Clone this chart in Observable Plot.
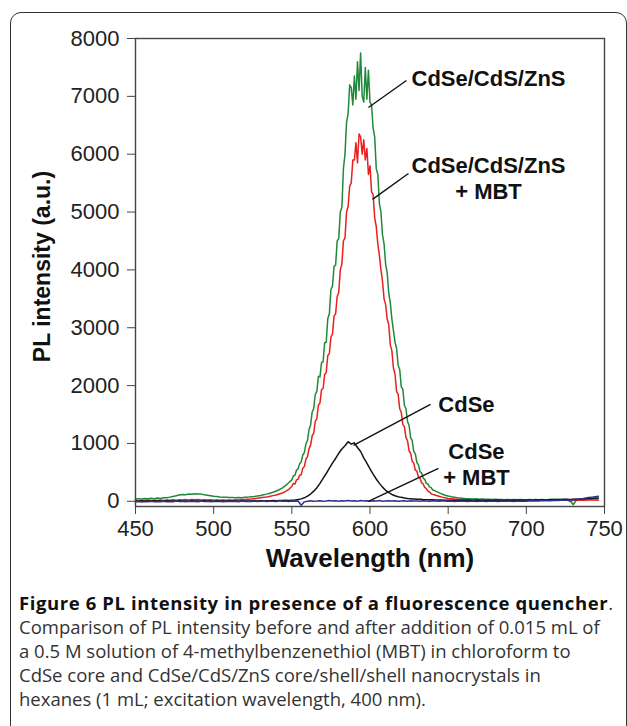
<!DOCTYPE html>
<html><head><meta charset="utf-8">
<script src="https://cdn.jsdelivr.net/npm/d3@7"></script>
<script src="https://cdn.jsdelivr.net/npm/@observablehq/plot@0.6"></script>
<style>
html,body{margin:0;padding:0;background:#fff;width:627px;height:726px;overflow:hidden;}
#box{position:absolute;left:10px;top:12px;width:617px;height:740px;border:1.5px solid #333;border-radius:11px;box-sizing:border-box;}
#chart{position:absolute;left:0;top:0;}
#caption{position:absolute;left:19px;top:591px;width:608px;font-family:"Open Sans",sans-serif;font-size:18.5px;line-height:24px;color:#333;white-space:nowrap;}
#caption b{font-weight:700;color:#111;letter-spacing:0.6px;}
</style></head>
<body>
<div id="box"></div>
<div id="chart"></div>
<div id="caption"><b>Figure 6 PL intensity in presence of a fluorescence quencher</b>.<br>Comparison of PL intensity before and after addition of 0.015 mL of<br>a 0.5 M solution of 4-methylbenzenethiol (MBT) in chloroform to<br>CdSe core and CdSe/CdS/ZnS core/shell/shell nanocrystals in<br>hexanes (1 mL; excitation wavelength, 400 nm).</div>
<script>
// ---- axes ----
const xTicks = [450, 500, 550, 600, 650, 700, 750];
const yTicks = [0, 1000, 2000, 3000, 4000, 5000, 6000, 7000, 8000];

// ---- wavelength sampling (nm) ----
const fineGrid = [...d3.range(450, 550, 2), ...d3.range(550, 641, 1), ...d3.range(642, 747, 2)];
const coarseGrid = d3.range(450, 747, 2);

// ---- CdSe/CdS/ZnS (green) ----
const greenLow = [40,46,38,50,44,52,46,55,50,60,
 62,72,84,96,110,118,112,126,120,132,
 126,124,112,104,96,88,82,76,72,70,
 66,64,62,66,62,68,72,78,84,92,
 100,112,124,140,156,178,200,232,270,320];
const greenPeak = [370,440,450,540,560,650,680,800,840,990,
 1050,1240,1320,1540,1610,1850,1900,2160,2150,2400,
 2410,2740,2750,3160,3240,3660,3720,4060,4080,4500,
 4540,5000,5080,5750,6000,6550,6700,7200,7150,6850,
 7350,6950,7600,7100,7750,7000,6900,7500,6950,7450,
 6900,6850,6450,6300,5750,5650,5150,5000,4600,4450,
 4100,3950,3600,3430,3150,2950,2750,2650,2350,2280,
 1980,1940,1660,1600,1380,1310,1100,1050,860,820,
 670,630,510,490,400,380,310,300,250,240,
 200];
const greenHigh = [175,150,125,105,90,78,70,60,55,50,
 46,44,40,42,36,38,34,36,30,34,
 30,32,28,32,28,30,26,30,28,26,
 30,26,30,28,32,28,30,34,30,34,
 32,36,30,10,-60,20,36,40,38,44,
 40,48,46];

// ---- CdSe/CdS/ZnS + MBT (red) ----
const redLow = [18,10,20,14,22,12,20,16,24,14,
 22,18,26,20,28,22,30,24,32,26,
 30,24,28,22,26,20,24,18,22,20,
 24,20,26,24,30,30,36,40,46,52,
 60,68,76,86,98,110,126,142,170,205];
const redPeak = [260,310,300,370,380,450,460,570,600,730,
 770,910,970,1130,1180,1380,1430,1660,1700,1930,
 1950,2190,2230,2520,2550,2840,2890,3200,3240,3540,
 3610,4000,4100,4500,4550,5000,5100,5450,5500,5900,
 5900,6200,5850,6350,6300,6000,6250,5900,6100,5650,
 5800,5350,5300,4900,4750,4450,4250,4000,3800,3500,
 3400,3150,3050,2700,2600,2300,2200,1900,1850,1600,
 1540,1330,1290,1100,1050,870,830,690,660,540,
 520,420,400,320,300,240,220,175,165,135,
 120];
const redHigh = [105,88,72,60,50,44,38,34,30,28,
 26,24,28,22,26,20,24,22,26,20,
 24,18,22,20,24,18,22,20,24,18,
 22,20,24,18,22,20,24,18,22,20,
 24,18,22,0,18,22,18,24,20,26,
 22,24,20];

// ---- CdSe (black) ----
const blackValues = [6,2,8,4,6,0,8,4,6,2, 8,4,6,2,8,4,6,2,8,4,
 6,2,8,4,6,2,8,4,6,2, 8,4,6,2,8,4,6,4,8,6,
 10,6,10,8,12,10,14,12,16,14,
 18,22,30,42,60,88,125,175,235,310,
 395,480,575,660,740,830,905,960,1030,990,
 1010,930,860,750,660,560,470,385,310,245,
 190,150,118,95,80,68,58,50,45,40,
 36,34,30,28,26,25,24,22,22,20,
 20,18,20,16,18,20,16,18,14,18,
 16,18,14,18,16,20,16,18,20,16,
 20,18,22,18,22,20,24,20,24,22,
 26,24,28,26,30,28,32,30,34,32,
 36,38,36,42,44,48,50,56,58];

// ---- CdSe + MBT (blue) ----
const blueValues = [-10,-4,-12,-2,-8,0,-10,-4,-6,2, -8,-2,-6,4,-4,0,-8,2,-4,-2,
 -6,4,-2,0,-6,2,-4,0,-8,-2, 2,-4,0,-6,4,-2,0,-4,6,-2,
 0,4,-2,6,0,-4,8,2,4,-2,
 4,0,6,-70,-10,2,8,0,4,10, 2,6,12,4,8,0,10,6,14,4,
 8,2,12,6,10,0,8,4,12,2, 6,10,4,8,0,6,10,2,8,4,
 6,0,10,4,2,8,6,0,4,6,
 2,6,-2,4,0,6,-4,2,4,-2, 0,4,-4,2,6,0,-2,4,0,6,
 2,-2,4,0,6,2,8,4,10,6, 12,8,14,10,16,12,20,16,24,20,
 30,28,40,46,56,64,72,80,86];

// ---- annotations ----
const labelTexts = ["CdSe/CdS/ZnS", "CdSe/CdS/ZnS\n+ MBT", "CdSe", "CdSe\n+ MBT"];
const labelX = [675.8, 675.8, 661.7, 668.1];
const labelY = [7325, 5598, 1693, 648];
const leaderX1 = [623.3, 624.6, 638.7, 643.8];
const leaderY1 = [7274, 5667, 1676, 570];
const leaderX2 = [599.0, 601.6, 589.4, 599.0];
const leaderY2 = [6807, 5218, 967, 0];

const green = [...greenLow, ...greenPeak, ...greenHigh];
const red = [...redLow, ...redPeak, ...redHigh];
if (green.length !== fineGrid.length || red.length !== fineGrid.length || blackValues.length !== coarseGrid.length || blueValues.length !== coarseGrid.length) {
  throw new Error(`length mismatch g${green.length} r${red.length} k${blackValues.length} b${blueValues.length} fine${fineGrid.length} coarse${coarseGrid.length}`);
}
const greenData = fineGrid.map((w, i) => ({w, v: green[i]}));
const redData = fineGrid.map((w, i) => ({w, v: red[i]}));
const blackData = coarseGrid.map((w, i) => ({w, v: blackValues[i]}));
const blueData = coarseGrid.map((w, i) => ({w, v: blueValues[i]}));
const labels = labelTexts.map((t, i) => ({t, x: labelX[i], y: labelY[i]}));
const leaders = leaderX1.map((x1, i) => ({x1, y1: leaderY1[i], x2: leaderX2[i], y2: leaderY2[i]}));

const chart = Plot.plot({
  width: 627, height: 585,
  marginLeft: 135, marginRight: 23, marginTop: 38, marginBottom: 79,
  x: {domain: [450, 750]},
  y: {domain: [-90, 8000]},
  style: {fontFamily: "'Liberation Sans', Arial, sans-serif", color: "#222", background: "transparent"},
  marks: [
    Plot.line(greenData, {x: "w", y: "v", stroke: "#21893a", strokeWidth: 1.5}),
    Plot.line(redData, {x: "w", y: "v", stroke: "#e8201f", strokeWidth: 1.5}),
    Plot.line(blackData, {x: "w", y: "v", stroke: "#151515", strokeWidth: 1.5}),
    Plot.line(blueData, {x: "w", y: "v", stroke: "#2e3192", strokeWidth: 1.5}),
    Plot.link(leaders, {x1: "x1", y1: "y1", x2: "x2", y2: "y2", stroke: "#111", strokeWidth: 1.4}),
    Plot.text(labels, {x: "x", y: "y", text: "t", textAnchor: "middle", fontSize: 22, fontWeight: "bold", lineHeight: 1.18, fill: "#111"}),
    Plot.frame({stroke: "#444", strokeWidth: 1.4}),
    Plot.axisX({ticks: xTicks, tickSize: 8, tickPadding: 6, fontSize: 22, label: null, tickFormat: "d", stroke: "#444", fill: "#222"}),
    Plot.axisY({ticks: yTicks, tickSize: 8, tickPadding: 8, fontSize: 22, label: null, tickFormat: "d", stroke: "#444", fill: "#222"}),
    Plot.text(["Wavelength (nm)"], {frameAnchor: "bottom", lineAnchor: "middle", dy: 52, fontSize: 26, fontWeight: "bold", fill: "#111"}),
    Plot.text(["PL intensity (a.u.)"], {frameAnchor: "left", textAnchor: "middle", lineAnchor: "middle", rotate: -90, dx: -93, dy: -6, fontSize: 23, fontWeight: "bold", fill: "#111"})
  ]
});
document.getElementById("chart").appendChild(chart);
</script>
</body></html>
